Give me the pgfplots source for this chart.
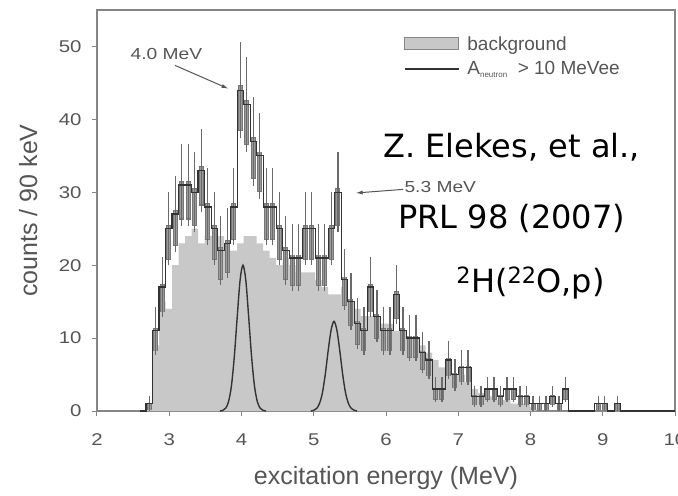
\documentclass[border=0pt]{standalone}
\usepackage{fontspec}
\setmainfont{Liberation Sans}
\newfontfamily\tickfont{Liberation Sans}[FakeStretch=1.2]
\newfontfamily\comicfont{DejaVu Sans}
\usepackage{pgfplots}
\pgfplotsset{compat=1.18}
\usepackage{pgfplotstable}
\usetikzlibrary{arrows.meta}
\definecolor{bggrey}{HTML}{C8C8C8}
\definecolor{axgrey}{HTML}{858585}
\definecolor{txtgrey}{HTML}{555555}
\definecolor{histblack}{HTML}{333333}
\definecolor{boxgrey}{HTML}{9A9A9A}
\definecolor{boxedge}{HTML}{767676}
\definecolor{errgrey}{HTML}{6A6A6A}

\pgfplotstableread{
x     xc     y   err  bg
2.60  2.640  0   0    0
2.68  2.725  1   1.0  1
2.77  2.815  11  3.3  9
2.86  2.905  17  4.1  15
2.95  2.995  25  5.0  14
3.04  3.085  27  5.2  20
3.13  3.175  31  5.6  23
3.22  3.265  31  5.6  24
3.31  3.355  30  5.5  25
3.40  3.445  33  5.7  23
3.49  3.535  28  5.3  24
3.58  3.625  25  5.0  24
3.67  3.715  22  4.7  24
3.76  3.805  23  4.8  22
3.85  3.895  28  5.3  22
3.94  3.985  44  6.6  23
4.03  4.075  42  6.5  24
4.12  4.165  37  6.1  24
4.21  4.255  35  5.9  23
4.30  4.345  28  5.3  22
4.39  4.435  28  5.3  21
4.48  4.525  25  5.0  20
4.57  4.615  22  4.7  21
4.66  4.705  21  4.6  20
4.75  4.795  21  4.6  19
4.84  4.885  25  5.0  19
4.93  4.975  25  5.0  19
5.02  5.065  21  4.6  18
5.11  5.155  21  4.6  17
5.20  5.245  25  5.0  16
5.29  5.335  30  5.5  16
5.38  5.425  18  4.2  17
5.47  5.515  15  3.9  15
5.56  5.605  12  3.5  14
5.65  5.695  11  3.3  13
5.74  5.785  17  4.1  13
5.83  5.875  13  3.6  13
5.92  5.965  11  3.3  12
6.01  6.055  11  3.3  12
6.10  6.145  16  4.0  11
6.19  6.235  11  3.3  11
6.28  6.325  10  3.2  10
6.37  6.415  10  3.2  10
6.46  6.505  8   2.8  9
6.55  6.595  7   2.6  8
6.64  6.685  3   1.7  7
6.73  6.775  3   1.7  6
6.82  6.865  7   2.6  6
6.91  6.955  5   2.2  5
7.00  7.045  6   2.4  5
7.09  7.135  6   2.4  4
7.18  7.225  2   1.4  3
7.27  7.315  2   1.4  2.5
7.36  7.405  3   1.7  2
7.45  7.495  3   1.7  2
7.54  7.585  2   1.4  1.5
7.63  7.675  3   1.7  1.5
7.72  7.765  3   1.7  1
7.81  7.855  2   1.4  1
7.90  7.945  2   1.4  1
7.99  8.035  1   1.0  0.5
8.08  8.125  1   1.0  0
8.17  8.215  1   1.0  0
8.26  8.305  2   1.4  0
8.35  8.395  1   1.0  0
8.44  8.485  3   1.7  0
8.53  8.575  0   0    0
8.62  8.665  0   0    0
8.71  8.755  0   0    0
8.80  8.845  0   0    0
8.89  8.935  1   1.0  0
8.98  9.025  1   1.0  0
9.07  9.115  0   0    0
9.16  9.205  1   1.0  0
9.25  9.295  0   0    0
10.0  10.00  0   0    0
}\datatable

\begin{document}
\begin{tikzpicture}
\begin{axis}[
  scale only axis,
  width=578bp, height=401bp,
  xmin=2, xmax=10, ymin=0, ymax=55,
  xtick={2,3,...,10}, ytick={0,10,...,50},
  xtick pos=bottom, ytick pos=left,
  tick align=outside,
  major tick length=5bp,
  tick style={axgrey, line width=1bp},
  axis line style={axgrey, line width=1.5bp},
  /pgf/number format/assume math mode=true,
  tick label style={font=\tickfont\fontsize{17bp}{20bp}\selectfont, text=txtgrey},
  xticklabel style={yshift=-14bp},
  yticklabel style={xshift=-7bp},
  label style={font=\fontsize{25bp}{30bp}\selectfont, text=txtgrey},
  xlabel={excitation energy (MeV)},
  ylabel={counts / 90 keV},
  xlabel style={at={(axis description cs:0.5,-0.167)}, anchor=center},
  ylabel style={at={(axis description cs:-0.119,0.5)}, anchor=center},
  legend style={at={(axis description cs:0.531,0.94)}, anchor=north west,
    draw=none, fill=none, inner sep=0pt,
    font=\fontsize{19bp}{22bp}\selectfont, text=txtgrey,
    row sep=6bp},
  legend cell align=left,
]
% background histogram
\addplot[const plot mark left, fill=bggrey, draw=none,
  legend image code/.code={\draw[fill=bggrey, draw=axgrey, line width=1bp] (0bp,-6bp) rectangle (54bp,6bp); \path (60bp,0bp);}]
  table[x=x, y=bg] {\datatable} \closedcycle;
\addlegendentry{background}
% error boxes
\addplot[draw=none, forget plot,
  error bars/.cd, y dir=both, y explicit, error mark=none,
  error bar style={draw=boxedge, line width=5bp}]
  table[x=xc, y=y, y error plus expr=0.1*\thisrow{err}, y error minus expr=0.85*\thisrow{err}] {\datatable};
\addplot[draw=none, forget plot,
  error bars/.cd, y dir=both, y explicit, error mark=none,
  error bar style={draw=boxgrey, line width=3bp}]
  table[x=xc, y=y, y error plus expr=0.08*\thisrow{err}, y error minus expr=0.82*\thisrow{err}] {\datatable};
% statistical error bars
\addplot[draw=none, forget plot,
  error bars/.cd, y dir=both, y explicit, error mark=none,
  error bar style={draw=errgrey, line width=1.1bp}]
  table[x=xc, y=y, y error=err] {\datatable};
% neutron-gated histogram
\addplot[const plot mark left, histblack, line width=1.3bp, mark=none,
  legend image code/.code={\draw[histblack, line width=1.3bp] (0bp,0bp) -- (54bp,0bp); \path (60bp,0bp);}]
  table[x=x, y=y] {\datatable};
\addlegendentry{A\raisebox{-3bp}{\fontsize{8bp}{9bp}\selectfont neutron}\ \ > 10 MeVee}
% fitted peaks
\addplot[smooth, histblack, line width=1.4bp, forget plot] coordinates {
 (3.70,0) (3.74,0.08) (3.78,0.37) (3.82,1.26) (3.86,3.4) (3.90,7.4) (3.94,12.8)
 (3.98,17.9) (4.02,20) (4.06,17.9) (4.10,12.8) (4.14,7.4) (4.18,3.4) (4.22,1.26)
 (4.26,0.37) (4.30,0.08) (4.34,0)};
\addplot[smooth, histblack, line width=1.4bp, forget plot] coordinates {
 (4.96,0) (5.00,0.1) (5.04,0.35) (5.08,1.04) (5.12,2.5) (5.16,5.06) (5.20,8.3)
 (5.24,11.1) (5.28,12.3) (5.32,11.1) (5.36,8.3) (5.40,5.06) (5.44,2.5) (5.48,1.04)
 (5.52,0.35) (5.56,0.1) (5.60,0)};
% annotations
\node[font=\tickfont\fontsize{16bp}{19bp}\selectfont, text=txtgrey] at (axis cs:2.96,48.9) {4.0 MeV};
\draw[-{Latex[length=7bp,width=4bp]}, txtgrey, line width=1bp] (axis cs:3.08,47.4) -- (axis cs:3.82,44.2);
\node[font=\tickfont\fontsize{16bp}{19bp}\selectfont, text=txtgrey, anchor=west, inner sep=1bp] at (axis cs:6.24,30.7) {5.3 MeV};
\draw[-{Latex[length=7bp,width=4bp]}, txtgrey, line width=1bp] (axis cs:6.24,30.4) -- (axis cs:5.58,29.9);
\node[font=\comicfont\fontsize{32bp}{36bp}\selectfont, anchor=base] at (axis cs:7.74,34.8) {Z. Elekes, et al.,};
\node[font=\comicfont\fontsize{32bp}{36bp}\selectfont, anchor=base] at (axis cs:7.74,25.1) {PRL 98 (2007)};
\node[font=\comicfont\fontsize{32bp}{36bp}\selectfont, anchor=base] at (axis cs:8.0,16.2) {\textsuperscript{2}H(\textsuperscript{22}O,p)};
\end{axis}
\pgfresetboundingbox
\useasboundingbox (-97bp,-85bp) rectangle (581bp,411bp);
\end{tikzpicture}
\end{document}
